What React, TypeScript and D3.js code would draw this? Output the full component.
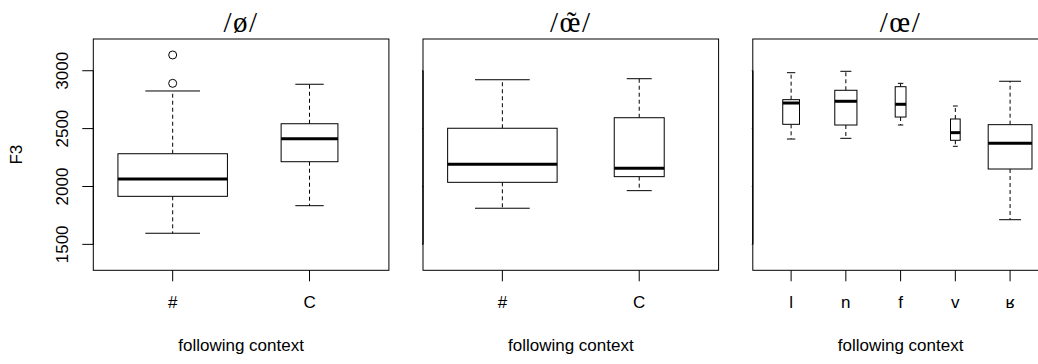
import React from "react";
import * as d3 from "d3";

// panel titles (the tilde of the middle one is drawn as a separate mark)
const titles = ["/ø/", "/œ/", "/œ/"];
const titleTilde = [false, true, false];

// panel 1: /ø/
const p1Cats = ["#", "C"];
const p1Lower = [1596, 1834];
const p1Q1 = [1915, 2214];
const p1Median = [2065, 2413];
const p1Q3 = [2283, 2542];
const p1Upper = [2825, 2883];
const p1Count = [52, 14];
const p1Outliers = [[3136, 2891], []];

// panel 2: /œ̃/
const p2Cats = ["#", "C"];
const p2Lower = [1812, 1964];
const p2Q1 = [2036, 2085];
const p2Median = [2192, 2157];
const p2Q3 = [2503, 2594];
const p2Upper = [2922, 2931];
const p2Count = [24, 5];
const p2Outliers = [[], []];

// panel 3: /œ/
const p3Cats = ["l", "n", "f", "v", "ʁ"];
const p3Lower = [2410, 2416, 2531, 2347, 1713];
const p3Q1 = [2537, 2531, 2600, 2399, 2151];
const p3Median = [2721, 2736, 2710, 2465, 2373];
const p3Q3 = [2750, 2831, 2862, 2583, 2534];
const p3Upper = [2983, 2995, 2891, 2695, 2909];
const p3Count = [12, 21, 5, 4, 82];
const p3Outliers = [[], [], [], [], []];

const yTicks = [1500, 2000, 2500, 3000];
const yLimits = [1350, 3200];

const panels = [
  { cats: p1Cats, lower: p1Lower, q1: p1Q1, med: p1Median, q3: p1Q3, upper: p1Upper, count: p1Count, out: p1Outliers },
  { cats: p2Cats, lower: p2Lower, q1: p2Q1, med: p2Median, q3: p2Q3, upper: p2Upper, count: p2Count, out: p2Outliers },
  { cats: p3Cats, lower: p3Lower, q1: p3Q1, med: p3Median, q3: p3Q3, upper: p3Upper, count: p3Count, out: p3Outliers },
];

const W = 1038;
const H = 364;
const top = 39;
const bottom = 270.3;
const plotW = 295.6;
const lefts = [93.3, 423, 752.8];
const sans = "Liberation Sans, Arial, sans-serif";
const serif = "Liberation Serif, DejaVu Serif, serif";

export default function App() {
  const pad = (yLimits[1] - yLimits[0]) * 0.04;
  const yScale = d3
    .scaleLinear()
    .domain([yLimits[0] - pad, yLimits[1] + pad])
    .range([bottom, top]);

  return (
    <svg width={W} height={H} style={{ position: "absolute", left: 0, top: 0 }}>
      <rect x={0} y={0} width={W} height={H} fill="white" />
      {panels.map((p, pi) => {
        const n = p.cats.length;
        const left = lefts[pi];
        const xScale = d3
          .scaleLinear()
          .domain([0.5 - 0.04 * n, n + 0.5 + 0.04 * n])
          .range([left, left + plotW]);
        const unit = xScale(1) - xScale(0);
        const maxN = d3.max(p.count) as number;
        const cx = (left + left + plotW) / 2;

        return (
          <g key={pi}>
            <text
              x={cx}
              y={31.5}
              textAnchor="middle"
              style={{ fontFamily: serif, fontSize: "29px", letterSpacing: "1.5px" }}
            >
              {titles[pi]}
            </text>
            {titleTilde[pi] && (
              <text x={cx + 0.7} y={31.5} textAnchor="middle" style={{ fontFamily: serif, fontSize: "29px" }}>
                ˜
              </text>
            )}

            {/* boxes */}
            {p.cats.map((c, i) => {
              const x = xScale(i + 1);
              const bw = 0.8 * unit * Math.sqrt(p.count[i] / maxN);
              return (
                <g key={c}>
                  <line x1={x} x2={x} y1={yScale(p.q3[i])} y2={yScale(p.upper[i])} stroke="black" strokeDasharray="4,3" />
                  <line x1={x} x2={x} y1={yScale(p.q1[i])} y2={yScale(p.lower[i])} stroke="black" strokeDasharray="4,3" />
                  <line x1={x - bw / 4} x2={x + bw / 4} y1={yScale(p.upper[i])} y2={yScale(p.upper[i])} stroke="black" />
                  <line x1={x - bw / 4} x2={x + bw / 4} y1={yScale(p.lower[i])} y2={yScale(p.lower[i])} stroke="black" />
                  <rect
                    x={x - bw / 2}
                    y={yScale(p.q3[i])}
                    width={bw}
                    height={yScale(p.q1[i]) - yScale(p.q3[i])}
                    fill="white"
                    stroke="black"
                  />
                  <line x1={x - bw / 2} x2={x + bw / 2} y1={yScale(p.med[i])} y2={yScale(p.med[i])} stroke="black" strokeWidth={3} />
                  {p.out[i].map((o, k) => (
                    <circle key={k} cx={x} cy={yScale(o)} r={4} fill="none" stroke="black" />
                  ))}
                </g>
              );
            })}

            {/* frame */}
            <rect x={left} y={top} width={plotW} height={bottom - top} fill="none" stroke="black" />

            {/* x axis */}
            {p.cats.map((c, i) => (
              <g key={"xt" + c}>
                <line x1={xScale(i + 1)} x2={xScale(i + 1)} y1={bottom} y2={bottom + 11} stroke="black" />
                <text x={xScale(i + 1)} y={308} textAnchor="middle" style={{ fontFamily: sans, fontSize: "17px" }}>
                  {c}
                </text>
              </g>
            ))}
            <text x={cx} y={350.5} textAnchor="middle" style={{ fontFamily: sans, fontSize: "17px" }}>
              following context
            </text>

            {/* y axis */}
            <line x1={left} x2={left} y1={yScale(1500)} y2={yScale(3000)} stroke="black" strokeWidth={pi === 0 ? 1 : 1.3} />
            {yTicks.map((t) => (
              <g key={"yt" + t}>
                <line x1={left - (pi === 0 ? 11 : 1)} x2={left} y1={yScale(t)} y2={yScale(t)} stroke="black" />
                {pi === 0 && (
                  <text
                    transform={`translate(68,${yScale(t)}) rotate(-90)`}
                    textAnchor="middle"
                    style={{ fontFamily: sans, fontSize: "17px" }}
                  >
                    {t}
                  </text>
                )}
              </g>
            ))}
          </g>
        );
      })}
      <text transform={`translate(22,${(top + bottom) / 2}) rotate(-90)`} textAnchor="middle" style={{ fontFamily: sans, fontSize: "17px" }}>
        F3
      </text>
    </svg>
  );
}
